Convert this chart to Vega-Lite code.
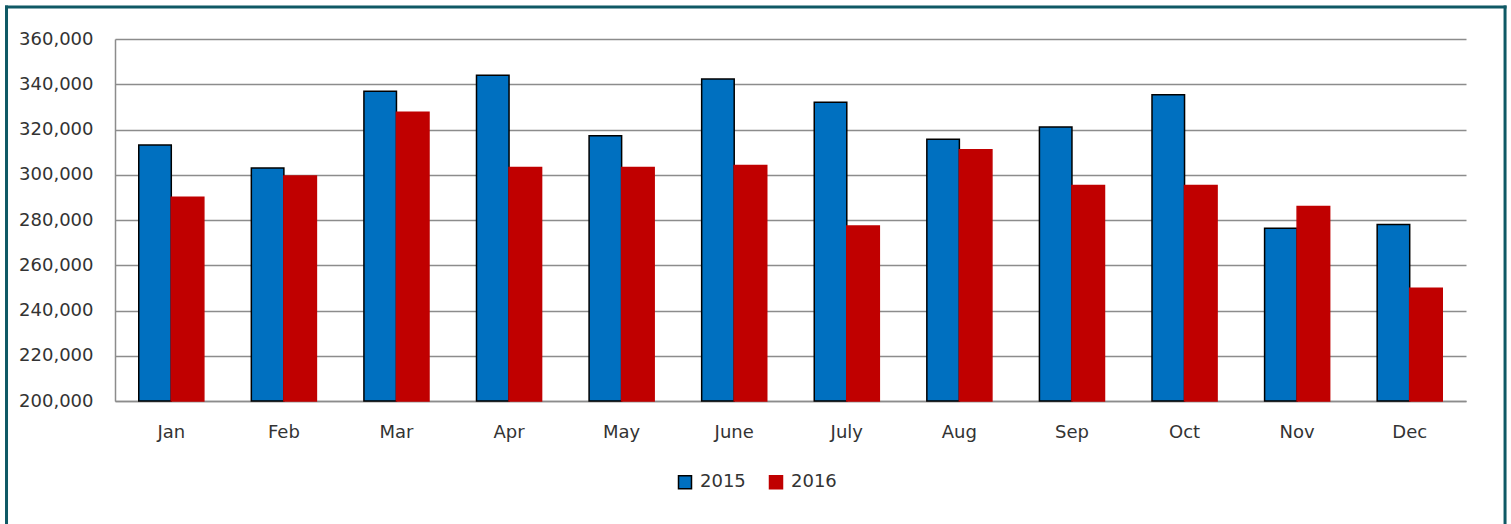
{
  "$schema": "https://vega.github.io/schema/vega-lite/v6.json",
  "width": 1351,
  "height": 362,
  "autosize": {"type": "none"},
  "padding": {"left": 115, "top": 39, "right": 45, "bottom": 123},
  "background": "white",
  "config": {
    "view": {"stroke": null},
    "font": "DejaVu Sans",
    "axis": {"labelFont": "DejaVu Sans", "labelFontSize": 18, "labelColor": "#333333", "ticks": false, "title": null},
    "legend": {"labelFont": "DejaVu Sans", "labelFontSize": 18, "labelColor": "#333333"}
  },
  "layer": [
    {
      "data": {"values": [{}]},
      "mark": {"type": "rule", "color": "#0f5965", "strokeWidth": 3, "strokeCap": "square"},
      "encoding": {
        "x": {"datum": -0.0803, "type": "quantitative", "scale": {"domain": [0, 1], "nice": false, "zero": false}, "axis": null},
        "y": {"datum": -0.35, "type": "quantitative", "scale": {"domain": [0, 1], "nice": false, "zero": false}, "axis": null},
        "y2": {"datum": 1.0884}
      }
    },
    {
      "data": {"values": [{}]},
      "mark": {"type": "rule", "color": "#0f5965", "strokeWidth": 3, "strokeCap": "square"},
      "encoding": {
        "x": {"datum": 1.0289, "type": "quantitative", "scale": {"domain": [0, 1], "nice": false, "zero": false}, "axis": null},
        "y": {"datum": -0.35, "type": "quantitative", "scale": {"domain": [0, 1], "nice": false, "zero": false}, "axis": null},
        "y2": {"datum": 1.0884}
      }
    },
    {
      "data": {"values": [{}]},
      "mark": {"type": "rule", "color": "#0f5965", "strokeWidth": 3, "strokeCap": "square"},
      "encoding": {
        "x": {"datum": -0.0803, "type": "quantitative", "scale": {"domain": [0, 1], "nice": false, "zero": false}, "axis": null},
        "x2": {"datum": 1.0289},
        "y": {"datum": 1.0884, "type": "quantitative", "scale": {"domain": [0, 1], "nice": false, "zero": false}, "axis": null}
      }
    },
    {
      "data": {
        "values": [
          {"month": "Jan", "year": "2015", "value": 313200},
          {"month": "Jan", "year": "2016", "value": 290100},
          {"month": "Feb", "year": "2015", "value": 303000},
          {"month": "Feb", "year": "2016", "value": 299500},
          {"month": "Mar", "year": "2015", "value": 336900},
          {"month": "Mar", "year": "2016", "value": 327600},
          {"month": "Apr", "year": "2015", "value": 344000},
          {"month": "Apr", "year": "2016", "value": 303200},
          {"month": "May", "year": "2015", "value": 317200},
          {"month": "May", "year": "2016", "value": 303200},
          {"month": "June", "year": "2015", "value": 342300},
          {"month": "June", "year": "2016", "value": 304100},
          {"month": "July", "year": "2015", "value": 332000},
          {"month": "July", "year": "2016", "value": 277400},
          {"month": "Aug", "year": "2015", "value": 315700},
          {"month": "Aug", "year": "2016", "value": 311100},
          {"month": "Sep", "year": "2015", "value": 321100},
          {"month": "Sep", "year": "2016", "value": 295200},
          {"month": "Oct", "year": "2015", "value": 335400},
          {"month": "Oct", "year": "2016", "value": 295200},
          {"month": "Nov", "year": "2015", "value": 276400},
          {"month": "Nov", "year": "2016", "value": 286000},
          {"month": "Dec", "year": "2015", "value": 278000},
          {"month": "Dec", "year": "2016", "value": 249800}
        ]
      },
      "mark": {"type": "bar", "strokeWidth": 1.5},
      "encoding": {
        "x": {
          "field": "month", "type": "nominal", "sort": null,
          "scale": {"paddingInner": 0, "paddingOuter": 0},
          "axis": {"labelAngle": 0, "labelPadding": 22, "domain": true, "domainColor": "#8c8c8c", "domainWidth": 1.5, "grid": false}
        },
        "xOffset": {"field": "year", "type": "nominal", "scale": {"paddingInner": 0, "paddingOuter": 0.73}},
        "y": {
          "field": "value", "type": "quantitative",
          "scale": {"domain": [200000, 360000], "zero": false, "nice": false},
          "axis": {"values": [200000, 220000, 240000, 260000, 280000, 300000, 320000, 340000, 360000], "format": ",d", "labelPadding": 22, "grid": true, "gridColor": "#8c8c8c", "gridWidth": 1.5, "domain": true, "domainColor": "#8c8c8c", "domainWidth": 1.5}
        },
        "y2": {"datum": 200000},
        "color": {
          "field": "year", "type": "nominal",
          "scale": {"domain": ["2015", "2016"], "range": ["#0070c0", "#c00000"]},
          "legend": {"title": null, "orient": "none", "direction": "horizontal", "legendX": 561, "legendY": 434, "symbolType": "square", "symbolSize": 169, "symbolStrokeWidth": 1.5, "labelOffset": 6, "columnPadding": 20, "padding": 0}
        },
        "stroke": {
          "field": "year", "type": "nominal",
          "scale": {"domain": ["2015", "2016"], "range": ["#000000", "#c00000"]}
        }
      }
    }
  ],
  "resolve": {"scale": {"x": "independent", "y": "independent"}}
}
